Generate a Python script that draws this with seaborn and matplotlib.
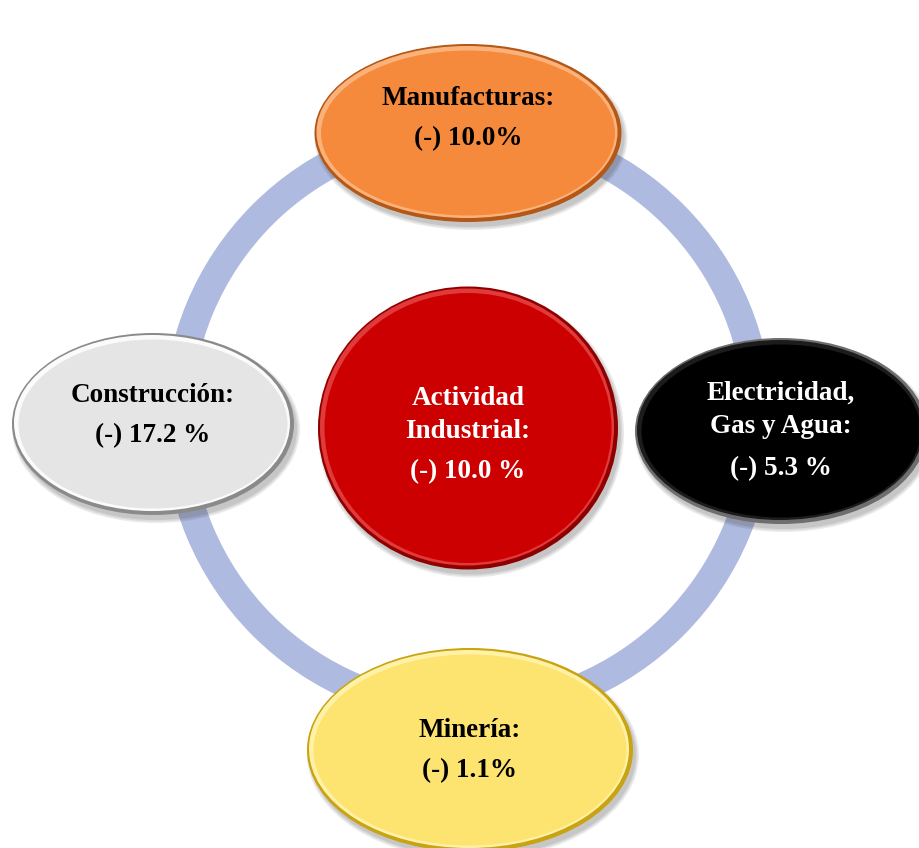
import numpy as np
import matplotlib
matplotlib.use("Agg")
import matplotlib.pyplot as plt
from matplotlib.patches import Ellipse, Annulus
import seaborn as sns

# Data
sectors = ["Manufacturas:", "Construcción:", "Electricidad,\nGas y Agua:", "Minería:", "Actividad\nIndustrial:"]
values = ["(-) 10.0%", "(-) 17.2 %", "(-) 5.3 %", "(-) 1.1%", "(-) 10.0 %"]
fills = ["#f68a3c", "#e5e5e5", "#000000", "#fde36f", "#cc0000"]
rims = ["#b35816", "#8a8a8a", "#6e6e6e", "#c9a312", "#8e0000"]
highlights = ["#fbb27a", "#fbfbfb", "#1c1c1c", "#fff1a6", "#e23a3a"]
text_colors = ["black", "black", "white", "black", "white"]

# Layout (pixel space, y down)
centers = [(468, 133), (153, 424), (781, 431), (470, 750), (468, 428)]
sizes = [(307, 178), (282, 182), (292, 186), (326, 204), (300, 283)]
label_base = [105, 402, 400, 737, 405]   # baseline of first label line
value_base = [145, 442, 475, 777, 478]
line_step = 33
ring_center = (468, 420)
ring_radius = 304
ring_width = 27

sns.set_theme(style="white")
plt.rcParams["font.family"] = ["Liberation Serif", "DejaVu Serif"]

fig = plt.figure(figsize=(9.2, 8.48), dpi=100)
ax = fig.add_axes([0, 0, 1, 1])
ax.set_xlim(0, 920)
ax.set_ylim(848, 0)
ax.set_aspect("equal")
ax.axis("off")

# ring behind the nodes
ax.add_patch(Annulus(ring_center, ring_radius, ring_width, color="#aebadf", zorder=1))

for i in range(len(sectors)):
    cx, cy = centers[i]
    w, h = sizes[i]
    z = 2 + i * 0.1
    # soft shadow
    for k, a in enumerate([0.10, 0.10, 0.12]):
        ax.add_patch(Ellipse((cx + 3, cy + 5), w + 6 - 3 * k, h + 6 - 3 * k,
                             color="#404040", alpha=a, lw=0, zorder=z))
    ax.add_patch(Ellipse((cx, cy), w, h, color=rims[i], lw=0, zorder=z + 0.01))
    ax.add_patch(Ellipse((cx - 1, cy - 1), w - 6, h - 6, color=highlights[i], lw=0, zorder=z + 0.02))
    ax.add_patch(Ellipse((cx, cy), w - 13, h - 13, color=fills[i], lw=0, zorder=z + 0.03))

    for j, line in enumerate(sectors[i].split("\n")):
        ax.text(cx, label_base[i] + j * line_step, line, ha="center", va="baseline",
                fontsize=19.5, fontweight="bold", color=text_colors[i], zorder=z + 0.05)
    ax.text(cx, value_base[i], values[i], ha="center", va="baseline", fontsize=19.5,
            fontweight="bold", color=text_colors[i], zorder=z + 0.05)

fig.savefig("out.png", dpi=100, facecolor="white")
